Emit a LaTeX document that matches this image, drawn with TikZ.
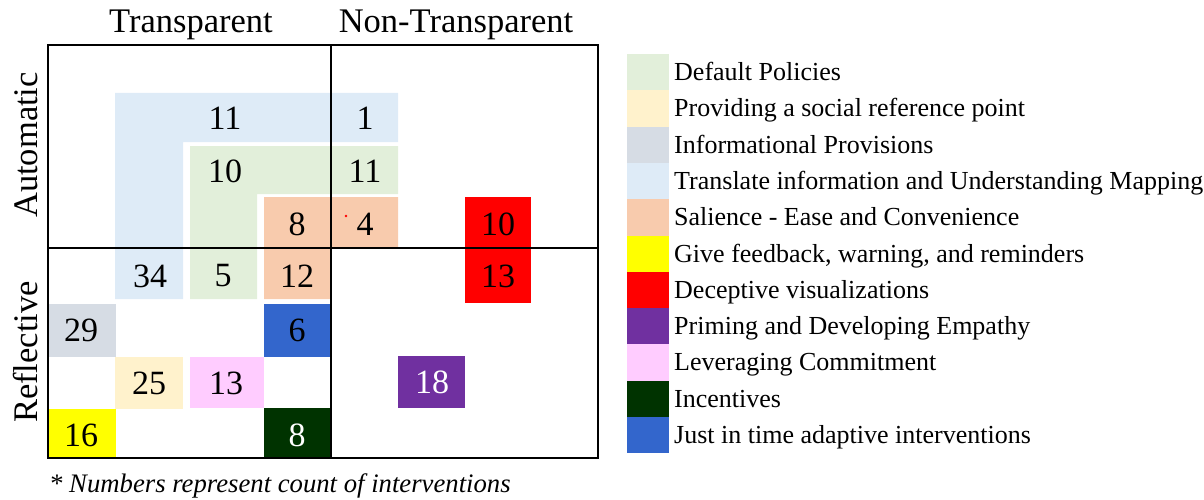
\documentclass[tikz,border=0pt]{standalone}
\usepackage{fontspec}
\setmainfont{Liberation Serif}
\begin{document}
\definecolor{cBlueL}{HTML}{DEEBF7}
\definecolor{cGreenL}{HTML}{E2EFDA}
\definecolor{cSalmon}{HTML}{F8CBAD}
\definecolor{cBeige}{HTML}{FFF2CC}
\definecolor{cGray}{HTML}{D6DCE4}
\definecolor{cYellow}{HTML}{FFFF00}
\definecolor{cRed}{HTML}{FF0000}
\definecolor{cPurple}{HTML}{7030A0}
\definecolor{cPink}{HTML}{FFCCFF}
\definecolor{cDarkGreen}{HTML}{003300}
\definecolor{cBlue}{HTML}{3366CC}
\begin{tikzpicture}[x=1pt,y=-1pt,
  num/.style={font=\rmfamily\fontsize{34}{38}\selectfont, inner sep=0pt, anchor=center},
  head/.style={font=\rmfamily\fontsize{34.5}{40}\selectfont, inner sep=0pt},
  legtxt/.style={font=\rmfamily\fontsize{26}{30}\selectfont, inner sep=0pt, anchor=base west},
  grid/.style={line width=1.8pt, black}
]
\useasboundingbox (0,0) rectangle (1204,500);

% nested L-shaped regions
\fill[cBlueL] (115,93) -- (398,93) -- (398,142) -- (183,142) -- (183,299) -- (115,299) -- cycle;
\fill[cGreenL] (190,146) -- (398,146) -- (398,194) -- (257,194) -- (257,299) -- (190,299) -- cycle;
\fill[cSalmon] (264,197) -- (398,197) -- (398,248) -- (331,248) -- (331,299) -- (264,299) -- cycle;

% single cells
\fill[cBlue] (264,304) rectangle (331,357);
\fill[cDarkGreen] (264,408) rectangle (331,458);
\fill[cRed] (465,197) rectangle (531,303);
\fill[cPurple] (398,356) rectangle (465,408);
\fill[cGray] (48,304) rectangle (116,357);
\fill[cBeige] (115,357) rectangle (183,409);
\fill[cPink] (190,357) rectangle (264,408);
\fill[cYellow] (48,409) rectangle (116,458);
\fill[cRed] (346,216) circle (1.4);

% quadrant frame
\draw[grid] (48,45) rectangle (598,458);
\draw[grid] (331,45) -- (331,458);
\draw[grid] (48,248) -- (598,248);

% counts
\node[num] (n1) at (225,118) {11};
\node[num] (n2) at (365,118) {1};
\node[num] (n3) at (225,171) {10};
\node[num] (n4) at (365,171) {11};
\node[num] (n5) at (297,224) {8};
\node[num] (n6) at (365,224) {4};
\node[num] (n7) at (498,224) {10};
\node[num] (n8) at (150,276) {34};
\node[num] (n9) at (223,276) {5};
\node[num] (n10) at (297,276) {12};
\node[num] (n11) at (498,276) {13};
\node[num] (n12) at (81,330) {29};
\node[num] (n13) at (297,330) {6};
\node[num] (n14) at (149,383) {25};
\node[num] (n15) at (226,383) {13};
\node[num, white] (n16) at (432,382) {18};
\node[num] (n17) at (81,435) {16};
\node[num, white] (n18) at (297,435) {8};

% axis headings
\node[head, anchor=base] (hT) at (191,33) {Transparent};
\node[head, anchor=base] (hN) at (456,33) {Non-Transparent};
\node[head, rotate=90, anchor=base] (hA) at (37,145) {Automatic};
\node[head, rotate=90, anchor=base] (hR) at (37,352) {Reflective};

% legend
\foreach \c/\t [count=\i from 0] in {
  cGreenL/Default Policies,
  cBeige/Providing a social reference point,
  cGray/Informational Provisions,
  cBlueL/Translate information and Understanding Mapping,
  cSalmon/Salience - Ease and Convenience,
  cYellow/{Give feedback, warning, and reminders},
  cRed/Deceptive visualizations,
  cPurple/Priming and Developing Empathy,
  cPink/Leveraging Commitment,
  cDarkGreen/Incentives,
  cBlue/Just in time adaptive interventions} {
  \fill[\c] (627,54+36.3*\i) rectangle (669,54+36.3*\i+36.3);
  \node[legtxt] (leg\i) at (674,80.5+36.3*\i) {\t};
}

% footnote
\node[font=\rmfamily\itshape\fontsize{26.7}{30}\selectfont, inner sep=0pt, anchor=base west] (foot) at (49,492) {* Numbers represent count of interventions};
\end{tikzpicture}
\end{document}
